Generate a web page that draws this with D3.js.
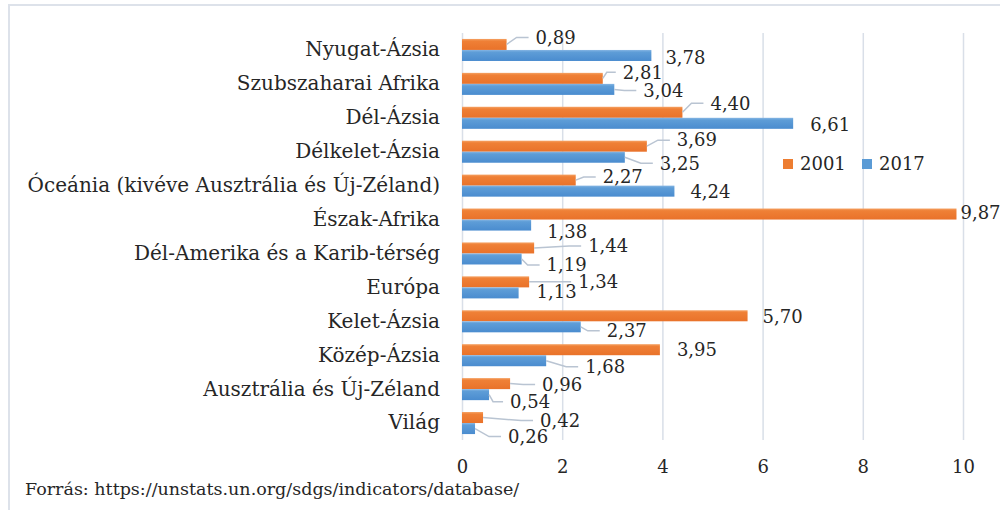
<!DOCTYPE html>
<html>
<head>
<meta charset="utf-8">
<script src="https://cdn.jsdelivr.net/npm/d3@7"></script>
<style>
  body { margin: 0; background: #fff; }
  text { font-family: "DejaVu Serif", serif; fill: #262626; }
</style>
</head>
<body>
<script>
var categories = ["Nyugat-Ázsia", "Szubszaharai Afrika", "Dél-Ázsia", "Délkelet-Ázsia",
  "Óceánia (kivéve Ausztrália és Új-Zéland)", "Észak-Afrika", "Dél-Amerika és a Karib-térség",
  "Európa", "Kelet-Ázsia", "Közép-Ázsia", "Ausztrália és Új-Zéland", "Világ"]
var seriesNames = ["2001", "2017"]
var values2001 = [0.89, 2.81, 4.40, 3.69, 2.27, 9.87, 1.44, 1.34, 5.70, 3.95, 0.96, 0.42]
var values2017 = [3.78, 3.04, 6.61, 3.25, 4.24, 1.38, 1.19, 1.13, 2.37, 1.68, 0.54, 0.26]
var xTicks = [0, 2, 4, 6, 8, 10]
var sourceText = "Forrás: https://unstats.un.org/sdgs/indicators/database/"

// where excel dropped each data label (px from bar end / bar middle)
var labelShift2001 = [[29,-7],[20,-6],[28,-9],[30,-6],[27,-3],[4,-1],[54,-2],[49,0],[15,1],[17,0],[32,1],[57,3]]
var labelShift2017 = [[14,2],[29,1],[17,1],[35,6],[16,1],[16,7],[25,6],[18,-1],[26,4],[39,6],[21,7],[33,8]]

var colors = {"2001": "url(#gOrange)", "2017": "url(#gBlue)"}
var flat = {"2001": "#ed7d31", "2017": "#5b9bd5"}
var fontSize = 18

var fmt = d3.formatLocale({decimal: ",", thousands: " ", grouping: [3], currency: ["", ""]}).format(".2f")

var svg = d3.select("body").append("svg")
  .attr("width", 1000)
  .attr("height", 510)

var defs = svg.append("defs")
function grad(id, c0, c1, c2) {
  var g = defs.append("linearGradient").attr("id", id)
    .attr("x1", 0).attr("y1", 0).attr("x2", 0).attr("y2", 1)
  g.append("stop").attr("offset", "0%").attr("stop-color", c0)
  g.append("stop").attr("offset", "20%").attr("stop-color", c1)
  g.append("stop").attr("offset", "100%").attr("stop-color", c2)
}
grad("gOrange", "#f5a264", "#ef8036", "#e9722a")
grad("gBlue", "#86b6e4", "#5e9dd7", "#4a8ccf")

// chart frame
svg.append("rect")
  .attr("x", 9).attr("y", 5)
  .attr("width", 1010).attr("height", 520)
  .attr("fill", "none")
  .attr("stroke", "#dde2ea")
  .attr("stroke-width", 2)

var x = d3.scaleLinear().domain([0, 10]).range([462, 963])
var y = d3.scaleBand().domain(categories).range([33, 440]).paddingInner(0.35).paddingOuter(0.175)
var yIn = d3.scaleBand().domain(seriesNames).range([0, y.bandwidth()])

// gridlines + tick labels
var xAxis = svg.append("g")
  .attr("transform", "translate(0,440)")
  .call(d3.axisBottom(x).tickValues(xTicks).tickSize(-407).tickFormat(d3.format("d")))
xAxis.select(".domain").remove()
xAxis.selectAll("line").attr("stroke", "#d9dfe8").attr("stroke-width", 1.5)
xAxis.selectAll("text")
  .attr("y", 27).attr("dy", "0.35em")
  .attr("font-size", fontSize)
  .attr("font-family", "DejaVu Serif")
  .attr("fill", "#262626")

// category labels
var yAxis = svg.append("g")
  .attr("transform", "translate(462,0)")
  .call(d3.axisLeft(y).tickSize(0).tickPadding(22))
yAxis.select(".domain").remove()
yAxis.selectAll("text")
  .attr("font-size", 20)
  .attr("font-family", "DejaVu Serif")
  .attr("fill", "#262626")

var rows = categories.map(function(c, i) {
  return {cat: c, i: i, vals: [
    {s: "2001", v: values2001[i], sh: labelShift2001[i]},
    {s: "2017", v: values2017[i], sh: labelShift2017[i]}
  ]}
})

var groups = svg.selectAll("g.row")
  .data(rows).enter()
  .append("g")
  .attr("class", "row")
  .attr("transform", function(d) { return "translate(0," + y(d.cat) + ")" })

groups.selectAll("rect")
  .data(function(d) { return d.vals }).enter()
  .append("rect")
  .attr("x", x(0))
  .attr("y", function(d) { return yIn(d.s) })
  .attr("width", function(d) { return x(d.v) - x(0) })
  .attr("height", yIn.bandwidth())
  .attr("fill", function(d) { return colors[d.s] })

// leader lines for labels that sit away from their bar
groups.selectAll("polyline")
  .data(function(d) { return d.vals.filter(function(v) { return v.sh[0] >= 20 }) }).enter()
  .append("polyline")
  .attr("points", function(d) {
    var sx = x(d.v), sy = yIn(d.s) + yIn.bandwidth() / 2
    var ex = x(d.v) + d.sh[0] - 7, ey = sy + d.sh[1]
    var mx = Math.max(sx + 4, ex - 12)
    return [[sx, sy], [mx, ey], [ex, ey]].join(" ")
  })
  .attr("fill", "none")
  .attr("stroke", "#b9c4d2")
  .attr("stroke-width", 1.5)

groups.selectAll("text.val")
  .data(function(d) { return d.vals }).enter()
  .append("text")
  .attr("class", "val")
  .attr("x", function(d) { return x(d.v) + d.sh[0] })
  .attr("y", function(d) { return yIn(d.s) + yIn.bandwidth() / 2 + d.sh[1] })
  .attr("dy", "0.35em")
  .attr("font-size", fontSize)
  .text(function(d) { return fmt(d.v) })

// legend
var legend = svg.selectAll("g.leg")
  .data(seriesNames).enter()
  .append("g")
  .attr("class", "leg")
  .attr("transform", function(d, i) { return "translate(" + (783 + i * 79) + ",159)" })
legend.append("rect")
  .attr("width", 10).attr("height", 10)
  .attr("fill", function(d) { return flat[d] })
legend.append("text")
  .attr("x", 17).attr("y", 5).attr("dy", "0.35em")
  .attr("font-size", fontSize)
  .text(function(d) { return d })

svg.append("text")
  .attr("x", 25).attr("y", 489).attr("dy", "0.35em")
  .attr("font-size", 17.5)
  .text(sourceText)
</script>
</body>
</html>
